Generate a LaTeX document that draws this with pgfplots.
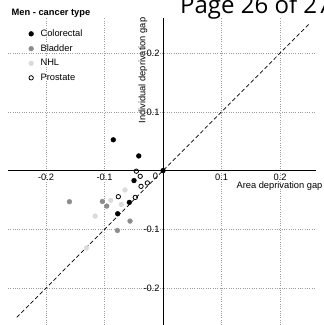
\documentclass[border=0pt]{standalone}
\usepackage{pgfplots}
\pgfplotsset{compat=1.18}
\usepackage{fontspec}
\setmainfont{Liberation Sans}
\newfontfamily\pagefont{Open Sans}
\definecolor{bladder}{gray}{0.55}
\definecolor{nhl}{gray}{0.86}
\definecolor{gridc}{gray}{0.62}
\begin{document}
\begin{tikzpicture}[x=1pt,y=1pt]
\useasboundingbox (0,0) rectangle (324,325);
\begin{axis}[
  at={(8pt,0pt)}, anchor=south west,
  scale only axis, width=308pt, height=307pt,
  xmin=-0.265, xmax=0.2615, ymin=-0.263, ymax=0.26,
  axis lines=middle,
  axis line style={-, line width=0.8pt, black},
  xtick={-0.2,-0.1,0,0.1,0.2},
  xticklabels={{-0.2},{-0.1},{0},{0.1},{0.2}},
  ytick={-0.2,-0.1,0.1,0.2},
  yticklabels={{-0.2},{-0.1},{0.1},{0.2}},
  major tick length=0pt,
  grid=major,
  major grid style={gridc, line width=0.6pt, dash pattern=on 0.7pt off 1.6pt},
  tick label style={font=\fontsize{9.3}{11}\selectfont},
  clip=false,
  legend cell align=left,
  legend style={draw=none, fill=none, at={(axis description cs:0.057,0.9755)}, anchor=north west,
    font=\fontsize{9.3}{11}\selectfont, row sep=2.6pt, column sep=5pt},
]
\addplot[only marks, mark=*, mark size=2.4pt, draw=black, fill=black] coordinates {
(-0.085,0.0525) (-0.0415,0.025) (0,0) (-0.0496,-0.017) (-0.0576,-0.0541) (-0.0775,-0.0735)};
\addlegendentry{Colorectal}
\addplot[only marks, mark=*, mark size=2.4pt, draw=bladder, fill=bladder] coordinates {
(-0.160,-0.053) (-0.1037,-0.0525) (-0.0962,-0.0604) (-0.0564,-0.086) (-0.078,-0.102)};
\addlegendentry{Bladder}
\addplot[only marks, mark=*, mark size=2.4pt, draw=nhl, fill=nhl] coordinates {
(-0.065,-0.033) (-0.0894,-0.0507) (-0.0713,-0.0576) (-0.116,-0.0775) (-0.131,-0.132)};
\addlegendentry{NHL}
\addplot[only marks, mark=o, mark size=2.2pt, draw=black, line width=0.8pt] coordinates {
(-0.0456,-0.001) (-0.039,-0.0097) (-0.0268,-0.021) (-0.0376,-0.0268) (-0.0474,-0.0456) (-0.0764,-0.0444)};
\addlegendentry{Prostate}
\addplot[black, line width=0.7pt, dash pattern=on 4pt off 2.5pt, forget plot] coordinates {(-0.25,-0.25) (0.25,0.25)};
\node[anchor=north, inner sep=0, font=\fontsize{9.3}{11}\selectfont] at (axis cs:-0.0128,-0.0045) {0};
\end{axis}
\node[anchor=base west, inner sep=0, font=\bfseries\fontsize{9.3}{11}\selectfont] at (11.5,309) {Men - cancer type};
\node[anchor=base west, inner sep=0, font=\pagefont\fontsize{24}{26}\selectfont] at (180,311.6) {Page 26 of 27};
\node[rotate=90, font=\fontsize{9.3}{11}\selectfont] at (143,254.5) {Individual deprivation gap};
\node[font=\fontsize{9.3}{11}\selectfont] at (279.5,139) {Area deprivation gap};
\end{tikzpicture}
\end{document}
